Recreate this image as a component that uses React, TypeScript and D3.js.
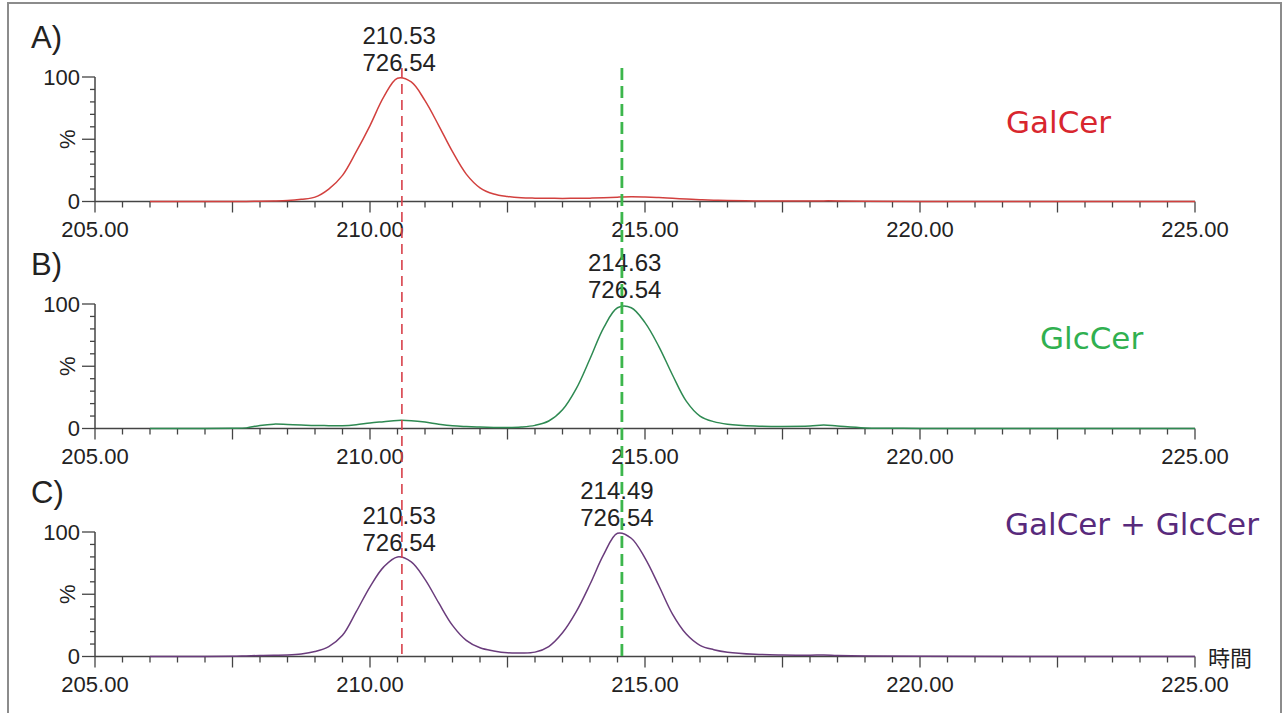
import * as d3 from 'd3';

// retention time grid (min), shared by all three traces
const times = [
  206, 207, 207.5, 207.75, 208, 208.25, 208.5, 208.75, 209, 209.25, 209.5, 209.75,
  210, 210.25, 210.5, 210.75, 211, 211.25, 211.5, 211.75, 212, 212.25, 212.5, 212.75,
  213, 213.25, 213.5, 213.75, 214, 214.25, 214.5, 214.75, 215, 215.25, 215.5, 215.75,
  216, 216.25, 216.5, 217, 217.5, 218, 218.25, 218.5, 219, 220, 222, 225,
];

// relative intensity (%)
const galCer = [
  0, 0, 0.1, 0.1, 0.2, 0.4, 0.8, 1.8, 3.5, 10, 21, 40,
  61, 84, 99, 96, 81, 61, 40, 22, 11, 6, 4, 3,
  2.7, 2.6, 2.5, 2.6, 2.7, 3, 3.5, 3.8, 3.6, 3.2, 2.6, 2,
  1.4, 1, 0.8, 0.4, 0.4, 0.4, 0.5, 0.5, 0.2, 0.1, 0, 0,
];
const glcCer = [
  0, 0, 0.2, 0.5, 2.5, 3.5, 3.2, 2.8, 2.4, 2.3, 2.2, 3,
  4.5, 5.5, 6.5, 6.3, 5.2, 3.5, 2.2, 1.6, 1.2, 0.9, 0.8, 1.2,
  2.5, 6, 15, 32, 56, 81, 97, 97, 85, 66, 43, 22,
  10, 5.5, 3.5, 2, 1.7, 2, 2.8, 2, 0.5, 0.1, 0, 0,
];
const mixture = [
  0, 0, 0.2, 0.5, 0.8, 1, 1.2, 2, 4, 8, 17, 36,
  56, 72, 80, 76, 62, 43, 25, 13, 7, 4.5, 3, 2.8,
  3.5, 8, 19, 36, 58, 82, 99, 95, 79, 57, 34, 18,
  9, 5.5, 3.5, 1.8, 1.2, 1, 1.2, 0.8, 0.4, 0.2, 0, 0,
];

const xTickLabels = ['205.00', '210.00', '215.00', '220.00', '225.00'];
const yTickLabels = ['0', '100'];
const panelLetters = ['A)', 'B)', 'C)'];
const seriesNames = ['GalCer', 'GlcCer', 'GalCer + GlcCer'];
const peakTimes = [[210.53], [214.63], [210.53, 214.49]];
const peakHeights = [[100], [100], [80, 100]];
const peakMass = '726.54';
const markerTimes = [210.58, 214.58];
const timeLabel = '時間';

const W = 1283;
const H = 713;
const plotLeft = 95;
const plotRight = 1195;
const plotH = 124.5;
const panelTops = [77, 304, 532];

const lineColors = ['#d2403e', '#2e8a52', '#6a3c7c'];
const nameColors = ['#d8262e', '#30b050', '#582a7c'];
const nameX = [1006, 1040, 1005];
const nameY = [133, 349, 535];
const markerColors = ['#d8404a', '#3cb64c'];
const numFont = '"Liberation Sans", Arial, sans-serif';
const axisColor = '#444';
const textColor = '#222';

export default function App() {
  const series = [galCer, glcCer, mixture];
  const x = d3.scaleLinear().domain([205, 225]).range([plotLeft, plotRight]);
  const minorX = d3.range(205, 225.01, 0.5);
  const majorX = d3.range(205, 225.01, 2.5);
  const labelX = d3.range(205, 225.01, 5);
  const minorY = d3.range(0, 100.01, 10);
  const majorY = [0, 50, 100];

  return (
    <div style={{ position: 'absolute', left: 0, top: 0 }}>
      <svg width={W} height={H} style={{ display: 'block', background: '#fff' }}>
        <rect x={8} y={3} width={1273} height={730} fill="#fff" stroke="#8c8c8c" strokeWidth={2} />
        {series.map((vals, i) => {
          const top = panelTops[i];
          const y = d3.scaleLinear().domain([0, 100]).range([top + plotH, top]);
          const y0 = y(0);
          const path = d3.line<number>()
            .x((_, j) => x(times[j]))
            .y(v => y(v))
            .curve(d3.curveCatmullRom.alpha(0.5))(vals) || '';
          return (
            <g key={i}>
              <text x={31} y={top - 29} fontSize={31} fontFamily={numFont} fill={textColor}>
                {panelLetters[i]}
              </text>
              {/* y axis */}
              <line x1={plotLeft} x2={plotLeft} y1={y(100)} y2={y0} stroke={axisColor} strokeWidth={1.5} />
              {minorY.map(t => (
                <line key={t} x1={plotLeft - (majorY.includes(t) ? 13 : 5)} x2={plotLeft}
                  y1={y(t)} y2={y(t)} stroke={axisColor} strokeWidth={1.3} />
              ))}
              {[0, 100].map((t, k) => (
                <text key={t} x={80} y={y(t)} dy="0.36em" textAnchor="end" fontSize={22}
                  fontFamily={numFont} fill={textColor}>{yTickLabels[k]}</text>
              ))}
              <text transform={`translate(75,${y(50)}) rotate(-90)`} textAnchor="middle"
                fontSize={22} fontFamily={numFont} fill={textColor}>%</text>
              {/* x axis */}
              <line x1={plotLeft} x2={plotRight} y1={y0} y2={y0} stroke={axisColor} strokeWidth={1.5} />
              {minorX.map(t => (
                <line key={t} x1={x(t)} x2={x(t)} y1={y0}
                  y2={y0 + (majorX.some(m => Math.abs(m - t) < 1e-6) ? 11 : 6)}
                  stroke={axisColor} strokeWidth={1.3} />
              ))}
              {labelX.map((t, k) => (
                <text key={t} x={x(t)} y={y0 + 35} textAnchor="middle" fontSize={22}
                  fontFamily={numFont} fill={textColor}>{xTickLabels[k]}</text>
              ))}
              {/* trace */}
              <path d={path} fill="none" stroke={lineColors[i]} strokeWidth={1.5} />
              {/* peak annotations */}
              {peakTimes[i].map((pt, k) => (
                <g key={k}>
                  <text x={x(pt)} y={y(peakHeights[i][k]) - 33} textAnchor="middle" fontSize={24}
                    fontFamily={numFont} fill={textColor}>{pt.toFixed(2)}</text>
                  <text x={x(pt)} y={y(peakHeights[i][k]) - 6} textAnchor="middle" fontSize={24}
                    fontFamily={numFont} fill={textColor}>{peakMass}</text>
                </g>
              ))}
              <text x={nameX[i]} y={nameY[i]} fontSize={31} fontFamily='"DejaVu Sans", Verdana, sans-serif'
                fill={nameColors[i]}>{seriesNames[i]}</text>
            </g>
          );
        })}
        {/* retention time markers */}
        {markerTimes.map((t, i) => (
          <line key={i} x1={x(t)} x2={x(t)} y1={68} y2={656}
            stroke={markerColors[i]} strokeWidth={i === 0 ? 1.6 : 2.8}
            strokeDasharray={i === 0 ? '10,6' : '12,6'} />
        ))}
        <text x={1208} y={666} fontSize={22} fontFamily='"Noto Sans CJK JP", sans-serif' fill={textColor}>
          {timeLabel}
        </text>
      </svg>
    </div>
  );
}
